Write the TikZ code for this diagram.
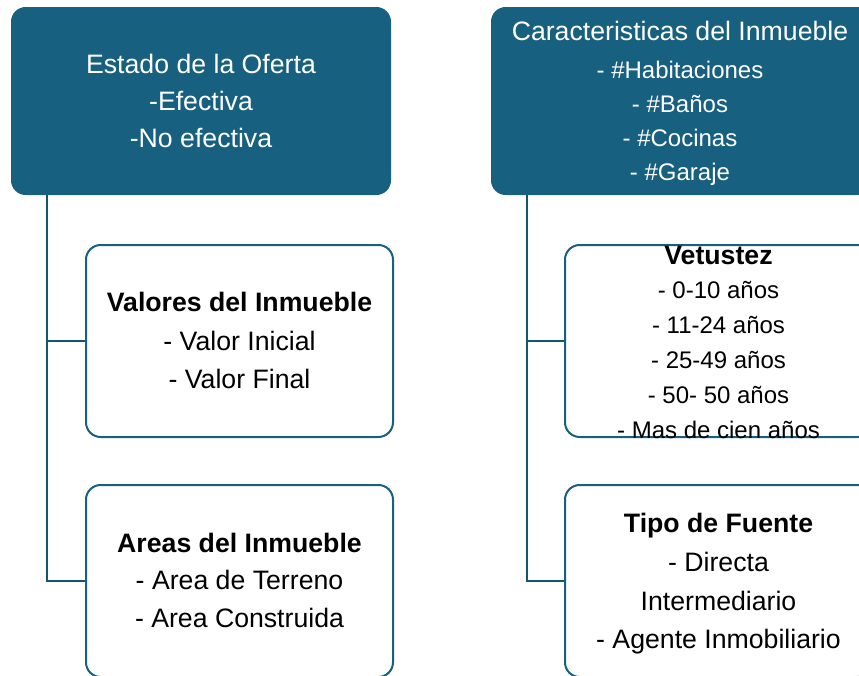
\documentclass[tikz,border=0pt]{standalone}
\usepackage{fontspec}
\setmainfont{Liberation Sans}
\definecolor{teal}{RGB}{23,96,128}
\definecolor{linec}{RGB}{22,84,112}
\tikzset{
  topbox/.style={draw=none, fill=teal, rounded corners=11pt, minimum width=285pt, minimum height=141pt},
  subbox/.style={draw=teal, line width=1.5pt, fill=white, rounded corners=11pt, minimum width=230.25pt, minimum height=144pt},
  conn/.style={draw=linec, line width=1.5pt},
  wtxt/.style={text=white, align=center, inner sep=0pt},
  btxt/.style={text=black, align=center, inner sep=0pt},
}
\begin{document}
\begin{tikzpicture}[x=0.75pt, y=-0.75pt]
\useasboundingbox (0,0) rectangle (859,675);
\clip (0,0) rectangle (859,675);
% boxes
\node[topbox] (tl) at (201,101) {};
\node[topbox] (tr) at (681,101) {};
\node[subbox] (vals) at (239.5,341) {};
\node[subbox] (areas) at (239.5,581) {};
\node[subbox] (vet) at (718.5,341) {};
\node[subbox] (tipo) at (718.5,581) {};
% connectors
\coordinate (tlb) at (47,195);
\coordinate (trb) at (527,195);
\draw[conn] (tlb) |- (areas.west);
\draw[conn] (tlb |- vals.west) -- (vals.west);
\draw[conn] (trb) |- (tipo.west);
\draw[conn] (trb |- vet.west) -- (vet.west);
% texts
\node[wtxt, font=\fontsize{20}{27.75}\selectfont] (tlt) at (201,101) {Estado de la Oferta\\-Efectiva\\-No efectiva};
\node[wtxt, font=\fontsize{20}{25}\selectfont] (trt1) at (680,31) {Caracteristicas del Inmueble};
\node[wtxt, font=\fontsize{18}{25.5}\selectfont] (trt2) at (680,123) {- \#Habitaciones\\- \#Baños\\- \#Cocinas\\- \#Garaje};
\node[btxt, font=\fontsize{20}{28.9}\selectfont] (valt) at (239.5,340.5) {\textbf{Valores del Inmueble}\\- Valor Inicial\\- Valor Final};
\node[btxt, font=\fontsize{20}{28.1}\selectfont] (aret) at (239.5,580) {\textbf{Areas del Inmueble}\\- Area de Terreno\\- Area Construida};
\node[btxt, font=\fontsize{18}{26.1}\selectfont] (vett) at (718.5,342) {{\fontsize{20}{26.1}\selectfont\bfseries Vetustez}\\- 0-10 años\\- 11-24 años\\- 25-49 años\\- 50- 50 años\\- Mas de cien años};
\node[btxt, font=\fontsize{20}{29}\selectfont] (tipt) at (718.5,584) {\textbf{Tipo de Fuente}\\- Directa\\Intermediario\\- Agente Inmobiliario};
\end{tikzpicture}
\end{document}
